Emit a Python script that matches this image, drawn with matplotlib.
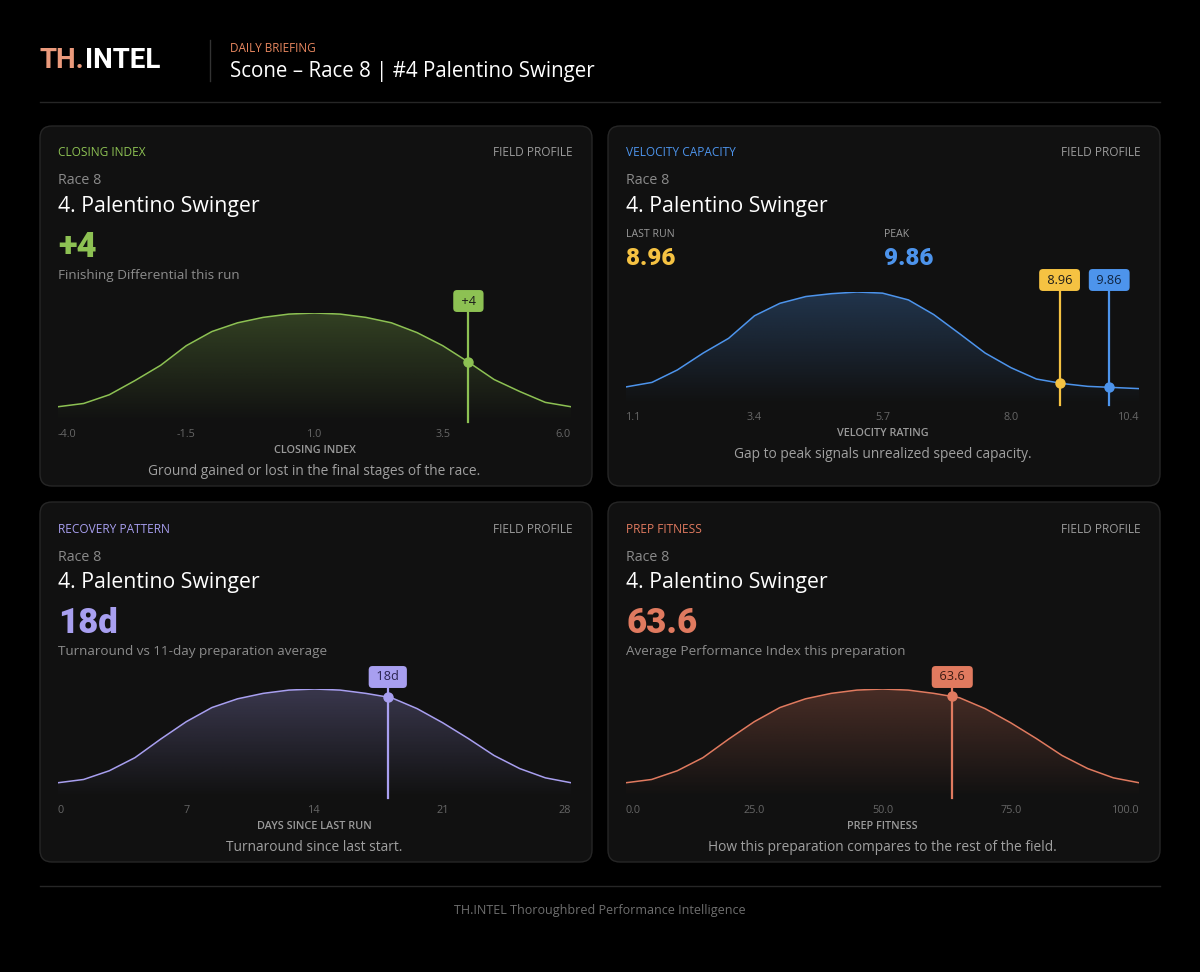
import numpy as np
import matplotlib
matplotlib.use('Agg')
import matplotlib.pyplot as plt
from matplotlib.patches import FancyBboxPatch, Polygon
from matplotlib import transforms
from matplotlib.colors import to_rgb

plt.rcParams['font.family'] = ['Open Sans', 'DejaVu Sans']

W, H = 1200, 972

# field profile curves (relative density)
closing_x = [-4.0, -3.5, -3.0, -2.5, -2.0, -1.5, -1.0, -0.5, 0.0, 0.5, 1.0,
             1.5, 2.0, 2.5, 3.0, 3.5, 4.0, 4.5, 5.0, 5.5, 6.0]
closing_y = [0.14, 0.17, 0.25, 0.38, 0.52, 0.70, 0.83, 0.91, 0.96, 0.99, 1.00,
             0.99, 0.96, 0.91, 0.82, 0.70, 0.55, 0.39, 0.28, 0.18, 0.14]
closing_ticks = [-4.0, -1.5, 1.0, 3.5, 6.0]
closing_ticklabels = ['-4.0', '-1.5', '1.0', '3.5', '6.0']
closing_value = 4.0

velocity_x = [1.1, 1.57, 2.03, 2.5, 2.96, 3.43, 3.89, 4.36, 4.82, 5.29, 5.75,
              6.22, 6.68, 7.15, 7.61, 8.08, 8.54, 9.01, 9.47, 9.94, 10.4]
velocity_y = [0.16, 0.20, 0.31, 0.46, 0.59, 0.79, 0.90, 0.96, 0.985, 1.00, 0.99,
              0.93, 0.80, 0.63, 0.46, 0.33, 0.23, 0.19, 0.165, 0.155, 0.145]
velocity_ticks = [1.1, 3.425, 5.75, 8.075, 10.4]
velocity_ticklabels = ['1.1', '3.4', '5.7', '8.0', '10.4']
velocity_last = 8.96
velocity_peak = 9.86

recovery_x = [0, 1.4, 2.8, 4.2, 5.6, 7.0, 8.4, 9.8, 11.2, 12.6, 14.0,
              15.4, 16.8, 18.2, 19.6, 21.0, 22.4, 23.8, 25.2, 26.6, 28.0]
recovery_y = [0.14, 0.17, 0.25, 0.37, 0.54, 0.70, 0.83, 0.91, 0.96, 0.99, 1.00,
              0.99, 0.96, 0.92, 0.82, 0.69, 0.545, 0.39, 0.27, 0.185, 0.14]
recovery_ticks = [0, 7, 14, 21, 28]
recovery_ticklabels = ['0', '7', '14', '21', '28']
recovery_value = 18

fitness_x = [0, 5, 10, 15, 20, 25, 30, 35, 40, 45, 50,
             55, 60, 65, 70, 75, 80, 85, 90, 95, 100]
fitness_y = [0.14, 0.17, 0.25, 0.37, 0.54, 0.70, 0.83, 0.91, 0.96, 0.99, 1.00,
             0.99, 0.96, 0.92, 0.82, 0.69, 0.545, 0.39, 0.27, 0.185, 0.14]
fitness_ticks = [0, 25, 50, 75, 100]
fitness_ticklabels = ['0.0', '25.0', '50.0', '75.0', '100.0']
fitness_value = 63.6

GREEN = '#8dc153'
BLUE = '#4d94ec'
YELLOW = '#f5c242'
LAVENDER = '#a89ff0'
SALMON = '#e07a5f'
PANEL = '#111111'
EDGE = '#262626'

fig = plt.figure(figsize=(W / 100, H / 100), dpi=100, facecolor='#000000')
bg = fig.add_axes([0, 0, 1, 1])
bg.set_xlim(0, W)
bg.set_ylim(H, 0)
bg.axis('off')

# header
t1 = bg.text(40, 61, 'TH.', color='#eb9a7c', fontsize=20, fontweight='bold',
             family='Roboto', va='center')
bg.annotate('INTEL', xy=(1, 0), xycoords=t1, va='bottom', color='white',
            fontsize=20, fontweight='bold', family='Roboto')
bg.plot([210, 210], [40, 81], color='#333333', lw=1)
bg.text(230, 48, 'DAILY BRIEFING', color='#e8875f', fontsize=8.5, va='center')
bg.text(230, 71, 'Scone – Race 8 | #4 Palentino Swinger', color='white',
        fontsize=14.8, va='center')
bg.plot([40, 1160], [102, 102], color='#262626', lw=1)

# footer
bg.plot([40, 1160], [886, 886], color='#262626', lw=1)
bg.text(600, 910, 'TH.INTEL Thoroughbred Performance Intelligence', color='#6f6f6f',
        fontsize=9, ha='center', va='center')


def panel(px, py, title, color, big, big_color, subtitle):
    bg.add_patch(FancyBboxPatch((px, py), 552, 360,
                                boxstyle='round,pad=0,rounding_size=12',
                                facecolor=PANEL, edgecolor=EDGE, lw=1))
    bg.text(px + 18, py + 27, title, color=color, fontsize=8.6, va='center')
    bg.text(px + 533, py + 27, 'FIELD PROFILE', color='#9a9a9a', fontsize=8.6,
            va='center', ha='right')
    bg.text(px + 18, py + 55, 'Race 8', color='#8a8a8a', fontsize=10.3, va='center')
    bg.text(px + 18, py + 80, '4. Palentino Swinger', color='white', fontsize=15.3,
            va='center')
    if big is not None:
        bg.text(px + 18, py + 121, big, color=big_color, fontsize=25,
                fontweight='heavy', family='Roboto', va='center')
        bg.text(px + 18, py + 149, subtitle, color='#8c8c8c', fontsize=9.7,
                va='center')


def chart(left, right, bottom, top, xs, ys, color, ticks, ticklabels,
          xlabel, caption):
    h = bottom - top
    ax = fig.add_axes([left / W, 1 - bottom / H, (right - left) / W, h / H])
    ax.set_xlim(xs[0], xs[-1])
    ax.set_ylim(0, 1)
    ax.patch.set_alpha(0)
    ax.axis('off')
    # gradient fill under the curve
    rgb = to_rgb(color)
    grad = np.zeros((100, 2, 4))
    grad[:, :, :3] = rgb
    grad[:, :, 3] = np.linspace(0, 0.27, 100)[:, None]
    im = ax.imshow(grad, extent=[xs[0], xs[-1], 0, 1], origin='lower',
                   aspect='auto', interpolation='bilinear', zorder=1)
    verts = [(xs[0], 0)] + list(zip(xs, ys)) + [(xs[-1], 0)]
    poly = Polygon(verts, closed=True, transform=ax.transData,
                   facecolor='none', edgecolor='none')
    ax.add_patch(poly)
    im.set_clip_path(poly)
    ax.plot(xs, ys, color=color, lw=1.1, zorder=3)
    trans = transforms.blended_transform_factory(ax.transData, ax.transAxes)
    for i, (tv, tl) in enumerate(zip(ticks, ticklabels)):
        ha = 'left' if i == 0 else ('right' if i == len(ticks) - 1 else 'center')
        ax.text(tv, -12 / h, tl, transform=trans, ha=ha, va='center',
                color='#666666', fontsize=7.8)
    ax.text(0.5, -28 / h, xlabel, transform=ax.transAxes, ha='center',
            va='center', color='#9a9a9a', fontsize=7.8, fontweight='semibold')
    ax.text(0.5, -49 / h, caption, transform=ax.transAxes, ha='center',
            va='center', color='#a0a0a0', fontsize=9.9)
    return ax, h


def marker(ax, h, xs, ys, value, label, color, text_color='#1c1c1c'):
    trans = transforms.blended_transform_factory(ax.transData, ax.transAxes)
    yv = np.interp(value, xs, ys)
    box_y = 1 + 12 / h
    ax.plot([value, value], [0, box_y - 8 / h], color=color, lw=1.6,
            transform=trans, clip_on=False, zorder=4)
    ax.plot([value], [yv], 'o', color=color, ms=6.5, zorder=5, clip_on=False)
    ax.text(value, box_y, ' ' + label + ' ', transform=trans, ha='center',
            va='center', color=text_color, fontsize=9.2, clip_on=False, zorder=6,
            bbox=dict(boxstyle='round,pad=0.35,rounding_size=0.3',
                      facecolor=color, edgecolor='none'))


# panel 1: closing index
panel(40, 126, 'CLOSING INDEX', GREEN, '+4', GREEN, 'Finishing Differential this run')
ax1, h1 = chart(58, 571, 422, 313, closing_x, closing_y, GREEN, closing_ticks,
                closing_ticklabels, 'CLOSING INDEX',
                'Ground gained or lost in the final stages of the race.')
marker(ax1, h1, closing_x, closing_y, closing_value, '+4', GREEN)

# panel 2: velocity capacity
panel(608, 126, 'VELOCITY CAPACITY', BLUE, None, None, None)
bg.text(626, 234, 'LAST RUN', color='#9a9a9a', fontsize=7.6, va='center')
bg.text(626, 258, f'{velocity_last:.2f}', color=YELLOW, fontsize=17.5,
        fontweight='heavy', family='Roboto', va='center')
bg.text(884, 234, 'PEAK', color='#9a9a9a', fontsize=7.6, va='center')
bg.text(884, 258, f'{velocity_peak:.2f}', color=BLUE, fontsize=17.5,
        fontweight='heavy', family='Roboto', va='center')
ax2, h2 = chart(626, 1139, 405, 292, velocity_x, velocity_y, BLUE, velocity_ticks,
                velocity_ticklabels, 'VELOCITY RATING',
                'Gap to peak signals unrealized speed capacity.')
marker(ax2, h2, velocity_x, velocity_y, velocity_last, f'{velocity_last:.2f}', YELLOW)
marker(ax2, h2, velocity_x, velocity_y, velocity_peak, f'{velocity_peak:.2f}', BLUE,
       '#10243f')

# panel 3: recovery pattern
panel(40, 502, 'RECOVERY PATTERN', LAVENDER, '18d', LAVENDER,
      'Turnaround vs 11-day preparation average')
ax3, h3 = chart(58, 571, 798, 689, recovery_x, recovery_y, LAVENDER, recovery_ticks,
                recovery_ticklabels, 'DAYS SINCE LAST RUN',
                'Turnaround since last start.')
marker(ax3, h3, recovery_x, recovery_y, recovery_value, f'{recovery_value}d',
       LAVENDER, '#2a2450')

# panel 4: prep fitness
panel(608, 502, 'PREP FITNESS', SALMON, f'{fitness_value:.1f}', SALMON,
      'Average Performance Index this preparation')
ax4, h4 = chart(626, 1139, 798, 689, fitness_x, fitness_y, SALMON, fitness_ticks,
                fitness_ticklabels, 'PREP FITNESS',
                'How this preparation compares to the rest of the field.')
marker(ax4, h4, fitness_x, fitness_y, fitness_value, f'{fitness_value:.1f}',
       SALMON, '#3a1a12')

fig.savefig('out.png', dpi=100, facecolor=fig.get_facecolor())
